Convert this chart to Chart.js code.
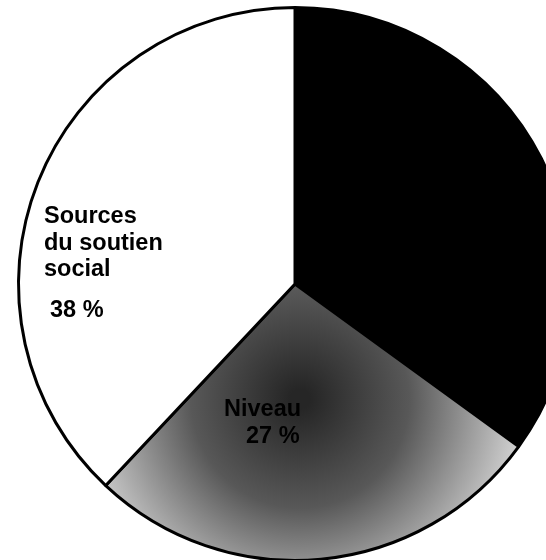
<!DOCTYPE html>
<html>
<head>
<meta charset="utf-8">
<script src="https://cdn.jsdelivr.net/npm/chart.js"></script>
<style>
    html, body { margin: 0; padding: 0; background: #fff; overflow: hidden; }
    #wrap { position: absolute; left: 0; top: 0; width: 590px; height: 568px; }
</style>
</head>
<body>
<div id="wrap"><canvas id="pieChart"></canvas></div>
<script>
// slice order: clockwise from 12 o'clock
const labels = ['Autre', 'Niveau', 'Sources du soutien social'];
const values = [35, 27, 38];
const sliceLabels = [[], ['Niveau', '27 %'], ['Sources', 'du soutien', 'social', '', '38 %']];

function sliceFill(context) {
    if (context.dataIndex === 0) return '#000000';
    if (context.dataIndex === 2) return '#ffffff';
    const chart = context.chart;
    const area = chart.chartArea;
    if (!area) return '#888888';
    const cx = (area.left + area.right) / 2;
    const cy = (area.top + area.bottom) / 2;
    const g = chart.ctx.createRadialGradient(cx + 5, cy + 115, 10, cx + 5, cy + 115, 230);
    g.addColorStop(0, '#262626');
    g.addColorStop(0.45, '#585858');
    g.addColorStop(1, '#d8d8d8');
    return g;
}

const labelPlugin = {
    id: 'sliceText',
    afterDatasetsDraw(chart) {
        const ctx = chart.ctx;
        ctx.save();
        ctx.font = 'bold 23.5px "Liberation Sans", Arial, sans-serif';
        ctx.textBaseline = 'alphabetic';
        ctx.fillStyle = '#000';
        // white slice text
        const white = sliceLabels[2];
        white.forEach((line, i) => {
            const x = i === 4 ? 50 : 44;
            ctx.fillText(line, x, 223 + i * 26.5 - (i === 4 ? 12 : 0));
        });
        // gray slice text
        const gray = sliceLabels[1];
        ctx.fillText(gray[0], 224, 416);
        ctx.fillText(gray[1], 246, 443);
        ctx.restore();
    }
};

new Chart(document.getElementById('pieChart'), {
    type: 'pie',
    data: {
        labels: labels,
        datasets: [{
            data: values,
            backgroundColor: sliceFill,
            borderColor: '#000000',
            borderWidth: 3
        }]
    },
    options: {
        responsive: true,
        maintainAspectRatio: false,
        animation: false,
        layout: {
            padding: { left: 15, right: 15, top: 6, bottom: 6 }
        },
        plugins: {
            legend: { display: false },
            tooltip: { enabled: false }
        }
    },
    plugins: [labelPlugin]
});
</script>
</body>
</html>
